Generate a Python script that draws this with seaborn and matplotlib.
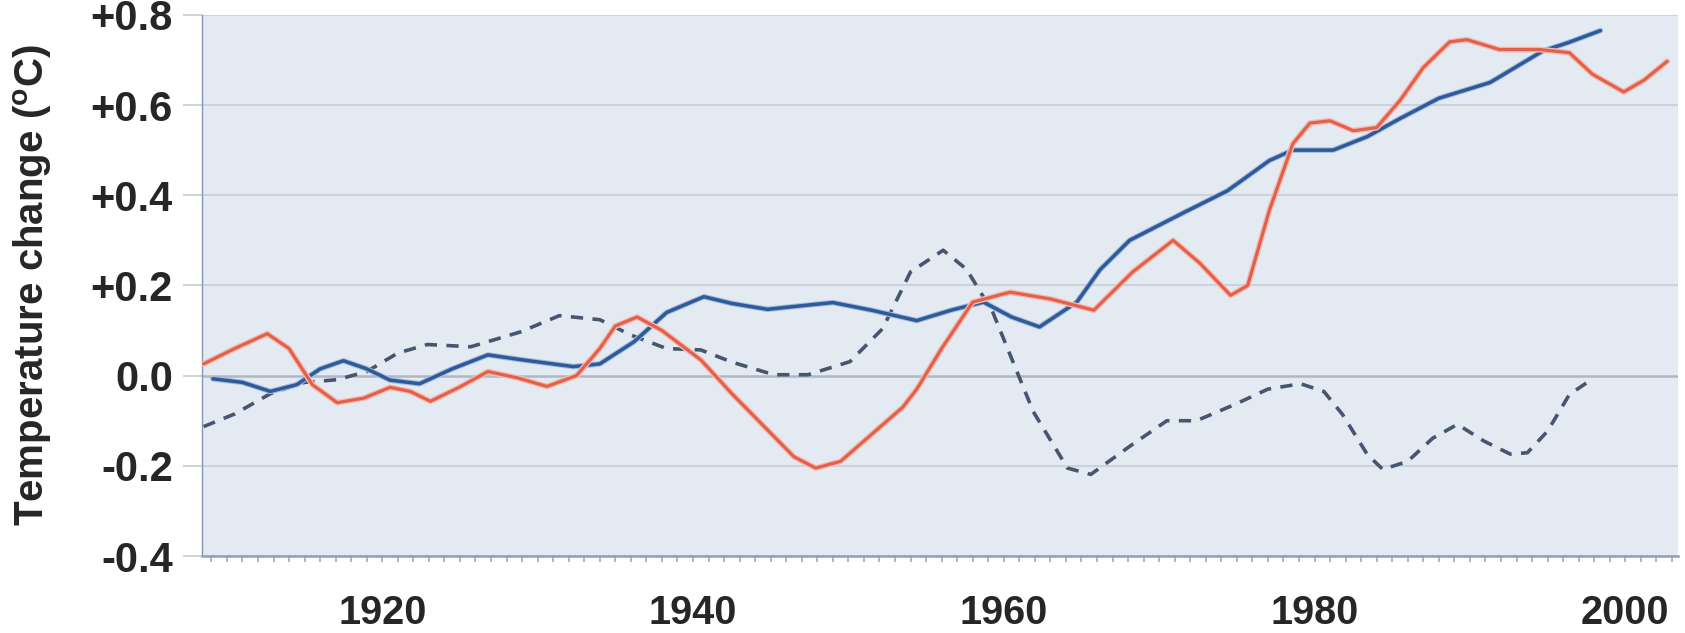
import numpy as np
import pandas as pd
import seaborn as sns
import matplotlib.pyplot as plt
from matplotlib.ticker import MultipleLocator
import matplotlib.patheffects as pe

# observed temperature (red)
obs_years = [1908.5, 1910.5, 1912.6, 1914.0, 1915.5, 1917.1, 1918.8, 1920.5, 1921.8, 1923.1,
             1925.0, 1926.8, 1928.7, 1930.6, 1932.5, 1934.0, 1935.0, 1936.4, 1938.0, 1940.5,
             1942.5, 1944.5, 1946.5, 1947.9, 1949.5, 1951.5, 1953.5, 1954.4, 1956.0, 1958.0,
             1960.4, 1963.0, 1965.8, 1968.3, 1970.9, 1972.6, 1974.6, 1975.7, 1977.1, 1978.6,
             1979.7, 1981.0, 1982.5, 1984.0, 1985.5, 1987.0, 1988.7, 1989.8, 1991.9, 1994.5,
             1996.4, 1997.9, 1999.9, 2001.2, 2002.7]
obs_vals = [0.026, 0.06, 0.093, 0.06, -0.02, -0.06, -0.05, -0.026, -0.035, -0.057,
            -0.025, 0.009, -0.005, -0.024, 0.0, 0.06, 0.11, 0.13, 0.10, 0.035,
            -0.04, -0.11, -0.18, -0.205, -0.19, -0.13, -0.07, -0.03, 0.06, 0.163,
            0.185, 0.17, 0.145, 0.23, 0.30, 0.25, 0.178, 0.20, 0.367, 0.514,
            0.56, 0.565, 0.543, 0.55, 0.61, 0.683, 0.74, 0.745, 0.723, 0.723,
            0.716, 0.668, 0.629, 0.655, 0.697]

# model, all forcings (blue solid)
model_years = [1909.1, 1911.0, 1912.8, 1914.5, 1916.0, 1917.5, 1919.0, 1920.5, 1922.4, 1924.5,
               1926.8, 1929.0, 1932.3, 1934.0, 1936.2, 1938.3, 1940.7, 1942.5, 1944.8, 1947.0,
               1949.0, 1951.5, 1954.4, 1956.6, 1958.7, 1960.5, 1962.3, 1964.7, 1966.2, 1968.1,
               1971.5, 1974.4, 1977.1, 1978.6, 1981.2, 1983.4, 1985.5, 1988.0, 1991.3, 1994.7,
               1996.3, 1998.4]
model_vals = [-0.007, -0.015, -0.035, -0.02, 0.015, 0.033, 0.015, -0.01, -0.018, 0.015,
              0.046, 0.035, 0.02, 0.026, 0.075, 0.14, 0.175, 0.16, 0.147, 0.155,
              0.162, 0.145, 0.122, 0.145, 0.163, 0.13, 0.108, 0.163, 0.235, 0.30,
              0.36, 0.41, 0.477, 0.50, 0.50, 0.53, 0.57, 0.615, 0.65, 0.72,
              0.738, 0.765]

# model, natural forcings only (dashed)
nat_years = [1908.5, 1910.5, 1912.8, 1915.0, 1917.1, 1919.0, 1921.0, 1922.9, 1925.7, 1928.9,
             1931.4, 1934.0, 1936.0, 1938.3, 1940.5, 1942.5, 1945.2, 1947.4, 1950.1, 1952.2,
             1954.0, 1956.1, 1957.6, 1959.3, 1961.9, 1964.1, 1965.6, 1968.3, 1970.5, 1972.4,
             1974.8, 1977.0, 1979.1, 1980.6, 1981.8, 1983.4, 1984.4, 1986.0, 1987.6, 1989.2,
             1990.9, 1992.6, 1993.7, 1995.0, 1996.4, 1997.9]
nat_vals = [-0.113, -0.085, -0.04, -0.015, -0.009, 0.009, 0.05, 0.069, 0.064, 0.097,
            0.133, 0.124, 0.09, 0.06, 0.057, 0.03, 0.002, 0.002, 0.031, 0.104,
            0.23, 0.278, 0.236, 0.14, -0.08, -0.205, -0.219, -0.152, -0.1, -0.1,
            -0.065, -0.03, -0.018, -0.035, -0.086, -0.175, -0.208, -0.19, -0.139, -0.108,
            -0.145, -0.174, -0.171, -0.123, -0.042, -0.007]

x_ticks = [1920, 1940, 1960, 1980, 2000]
y_ticks = [-0.4, -0.2, 0.0, 0.2, 0.4, 0.6, 0.8]
y_labels = ['-0.4', '-0.2', '0.0', '+0.2', '+0.4', '+0.6', '+0.8']

sns.set_style("white")
plt.rcParams['font.family'] = ['Liberation Sans', 'DejaVu Sans']
plt.rcParams['mathtext.fontset'] = 'custom'
plt.rcParams['mathtext.bf'] = 'Liberation Sans:bold'
plt.rcParams['mathtext.rm'] = 'Liberation Sans:bold'

fig = plt.figure(figsize=(16.85, 6.33), dpi=100)
ax = fig.add_axes([0.1199, 0.1216, 0.876, 0.855])
ax.set_facecolor('#E3EAF2')

# grid lines first
for v in y_ticks:
    ax.axhline(v, color='#AEB8C5' if v == 0 else '#C9D0D9', lw=1.8 if v == 0 else 1.3, zorder=1)

sns.lineplot(x=nat_years, y=nat_vals, ax=ax, color='#47556F', lw=2.6,
             linestyle=(0, (3.4, 2.6)), zorder=3)
sns.lineplot(x=model_years, y=model_vals, ax=ax, color='#2D5A98', lw=2.5, zorder=4,
             path_effects=[pe.Stroke(linewidth=4.0, foreground='#A6BADB'), pe.Normal()])
sns.lineplot(x=obs_years, y=obs_vals, ax=ax, color='#E2604C', lw=2.3, zorder=5,
             path_effects=[pe.Stroke(linewidth=4.2, foreground='#F5BDB2'), pe.Normal()])

ax.set_xlim(1908.4, 2003.4)
ax.set_ylim(-0.4, 0.8)

ax.set_xticks(x_ticks)
ax.set_xticklabels([str(t) for t in x_ticks], fontsize=28.5, fontweight='bold')
ax.xaxis.set_minor_locator(MultipleLocator(1))
ax.tick_params(axis='x', which='both', length=4.5, width=1.3, color='#A3B0CA',
               direction='out', pad=23, bottom=True)

ax.set_yticks(y_ticks)
ax.set_yticklabels(y_labels, fontsize=30, fontweight='bold')
ax.tick_params(axis='y', which='major', length=14, width=1.3, color='#C9D0D9',
               direction='out', pad=7, left=True)

ax.set_ylabel(r'Temperature change ($^{\mathrm{o}}$C)', fontsize=29, fontweight='bold')
ax.yaxis.set_label_coords(-0.1, 0.5)

for s in ['top', 'right']:
    ax.spines[s].set_visible(False)
ax.spines['left'].set_color('#8396B5')
ax.spines['left'].set_linewidth(1.0)
ax.spines['bottom'].set_color('#8FA0C2')
ax.spines['bottom'].set_linewidth(1.8)
ax.set_xlabel('')

fig.savefig('out.png', dpi=100, facecolor='white')
